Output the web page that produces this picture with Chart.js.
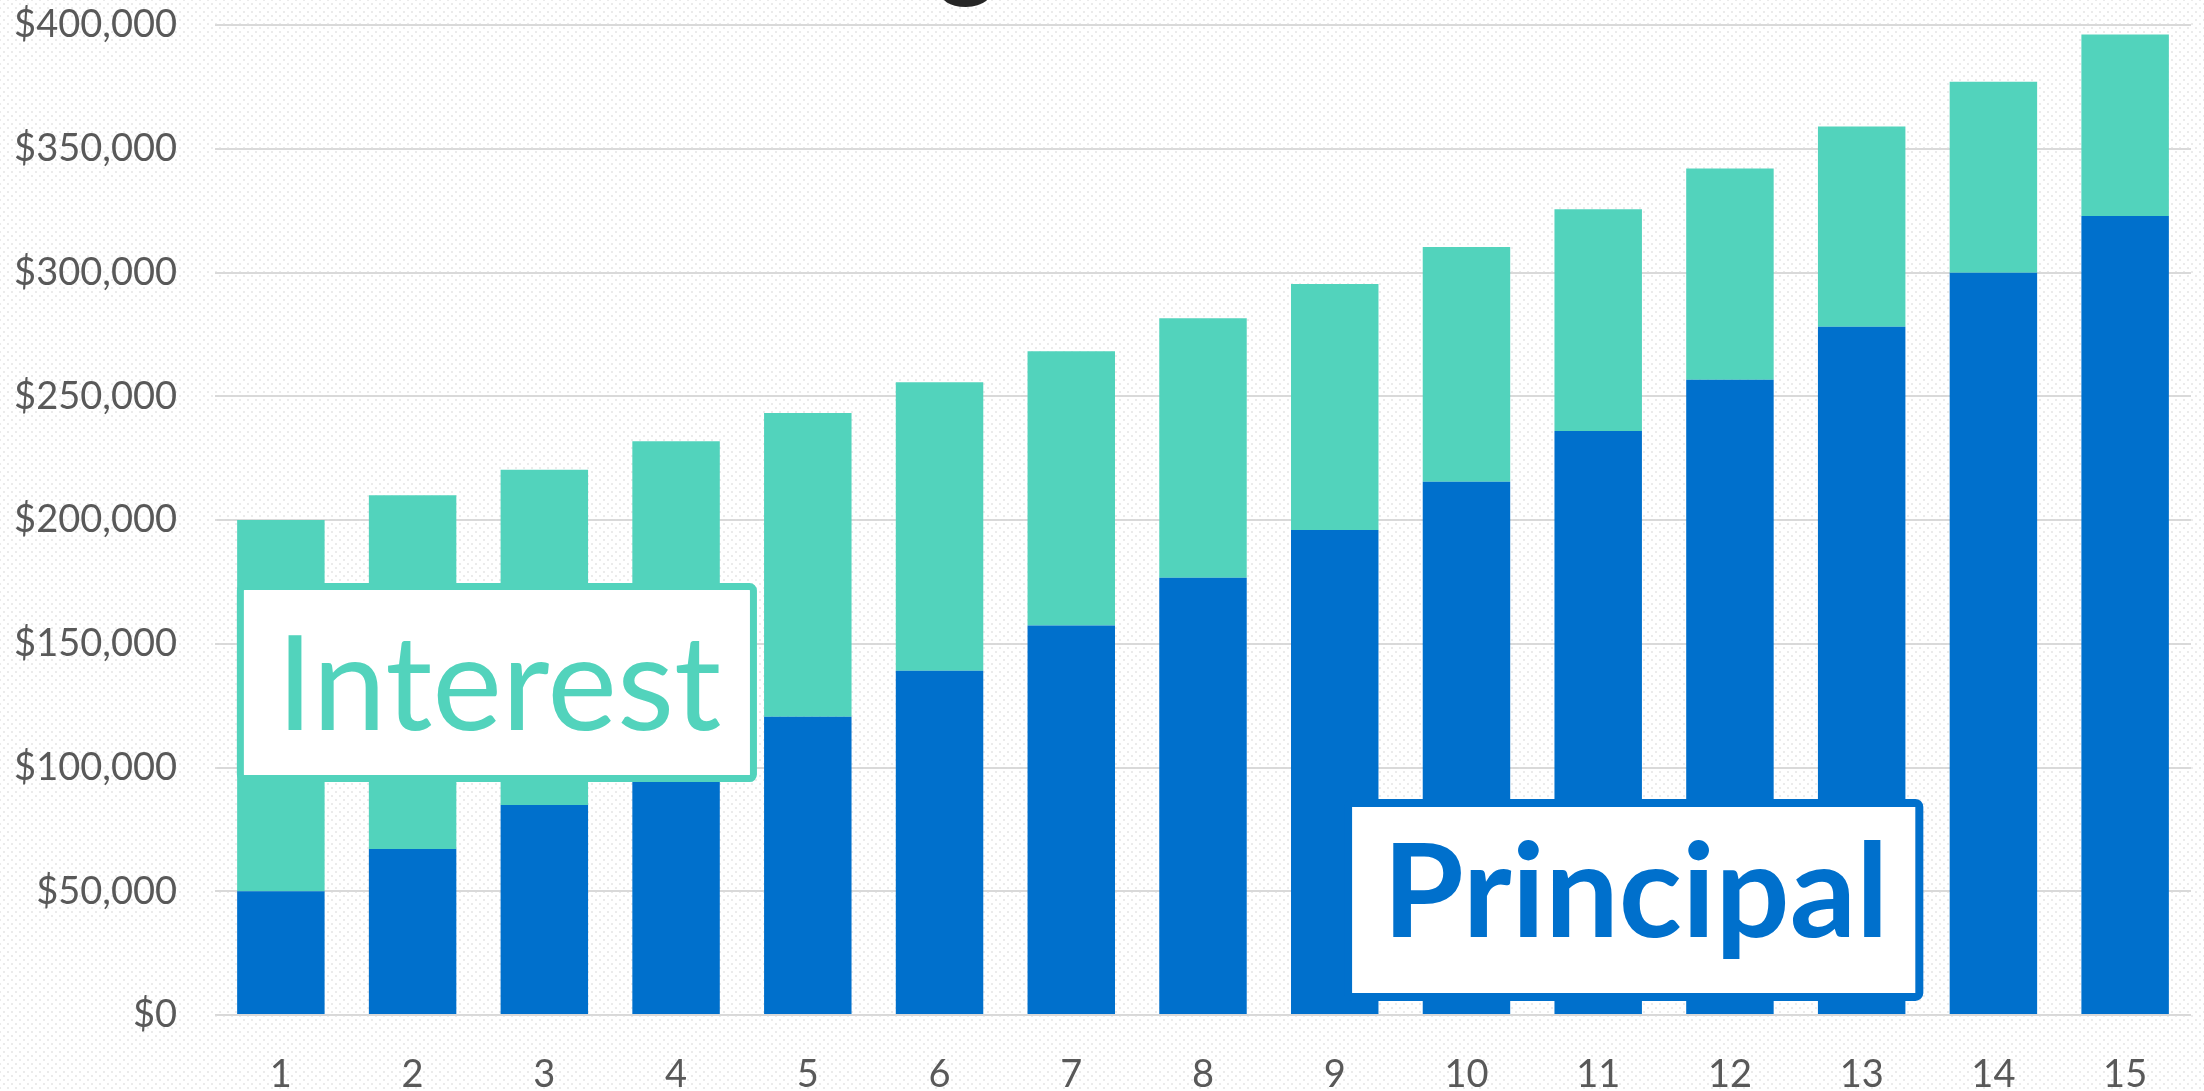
<!DOCTYPE html>
<html>
<head>
<meta charset="utf-8">
<script src="https://cdn.jsdelivr.net/npm/chart.js@4.4.1/dist/chart.umd.min.js"></script>
<style>
  html, body { margin: 0; padding: 0; }
  body {
    width: 2204px;
    height: 1091px;
    overflow: hidden;
    background-color: #ffffff;
    /* faint dotted paper behind the chart */
    background-image:
      radial-gradient(circle, #ebebeb 1px, transparent 1.4px),
      radial-gradient(circle, #ebebeb 1px, transparent 1.4px);
    background-size: 8px 8px;
    background-position: 0 0, 4px 4px;
  }
  #myChart { display: block; }
</style>
</head>
<body>
<canvas id="myChart" width="2204" height="1091"></canvas>
<script>
// years on the loan
var years = ['1', '2', '3', '4', '5', '6', '7', '8', '9', '10', '11', '12', '13', '14', '15'];

// principal paid down and interest, per year
var principal = [50000, 67100, 84800, 102500, 120500, 139100, 157400, 176700, 196000, 215500, 236000, 256700, 278100, 299900, 322800];
var interest  = [150000, 142900, 135500, 129300, 122700, 116600, 110800, 104800, 99400, 94800, 89600, 85300, 80900, 77200, 73400];

// value axis
var yTicks = [0, 50000, 100000, 150000, 200000, 250000, 300000, 350000, 400000];

var blue = '#0070CC';
var teal = '#52D3BC';

// labelled boxes, placed in axis units (category index / dollars)
var boxes = [
  { text: 'Interest',  color: teal, weight: 'normal', size: 132, from: -0.334, to: 3.614,  top: 174500, bottom: 94100, border: 7 },
  { text: 'Principal', color: blue, weight: 'bold',   size: 131, from: 8.071,  to: 12.468, top: 87300,  bottom: 5700,  border: 8 }
];

var boxLabels = {
  id: 'boxLabels',
  afterDatasetsDraw: function(chart) {
    var ctx = chart.ctx;
    var xs = chart.scales.x, ys = chart.scales.y;
    boxes.forEach(function(b) {
      var l = xs.getPixelForValue(b.from), r = xs.getPixelForValue(b.to);
      var t = ys.getPixelForValue(b.top), bt = ys.getPixelForValue(b.bottom);
      var h = b.border / 2;
      ctx.save();
      ctx.beginPath();
      ctx.roundRect(l + h, t + h, r - l - b.border, bt - t - b.border, 4);
      ctx.fillStyle = '#ffffff';
      ctx.fill();
      ctx.lineWidth = b.border;
      ctx.strokeStyle = b.color;
      ctx.stroke();
      ctx.fillStyle = b.color;
      ctx.font = b.weight + ' ' + b.size + 'px Lato';
      ctx.textAlign = 'center';
      ctx.textBaseline = 'alphabetic';
      var m = ctx.measureText(b.text);
      var cy = (t + bt) / 2 + (m.actualBoundingBoxAscent - m.actualBoundingBoxDescent) / 2;
      ctx.fillText(b.text, (l + r) / 2 + 2, cy);
      ctx.restore();
    });
  }
};

// heading sits mostly above the canvas edge
var heading = {
  id: 'heading',
  afterDraw: function(chart) {
    var ctx = chart.ctx;
    var text = 'Building Wealth';
    ctx.save();
    ctx.font = 'bold 110px Lato';
    ctx.fillStyle = '#262626';
    ctx.textAlign = 'left';
    ctx.textBaseline = 'alphabetic';
    var before = ctx.measureText('Buildin').width;
    ctx.fillText(text, 938 - before, -13);
    ctx.restore();
  }
};

var ctx = document.getElementById('myChart').getContext('2d');
var loanChart = new Chart(ctx, {
  type: 'bar',
  data: {
    labels: years,
    datasets: [{
      label: 'Principal',
      data: principal,
      backgroundColor: blue,
      barPercentage: 0.664,
      categoryPercentage: 1
    }, {
      label: 'Interest',
      data: interest,
      backgroundColor: teal,
      barPercentage: 0.664,
      categoryPercentage: 1
    }]
  },
  options: {
    responsive: false,
    animation: false,
    devicePixelRatio: 1,
    layout: { padding: { top: 0, right: 13, bottom: 0, left: 0 } },
    plugins: {
      legend: { display: false },
      tooltip: { enabled: false },
      title: { display: false }
    },
    scales: {
      x: {
        stacked: true,
        grid: { display: false },
        border: { display: false },
        ticks: {
          color: '#595959',
          font: { family: 'Lato', size: 38 },
          padding: 29,
          maxRotation: 0
        },
        afterFit: function(s) { s.height = 76; }
      },
      y: {
        stacked: true,
        min: 0,
        max: 400000,
        afterBuildTicks: function(s) {
          s.ticks = yTicks.map(function(v) { return { value: v }; });
        },
        grid: { color: '#d9d9d9', lineWidth: 2, drawTicks: false },
        border: { display: false },
        ticks: {
          color: '#595959',
          font: { family: 'Lato', size: 38, lineHeight: 1 },
          padding: 38,
          callback: function(v) { return '$' + v.toLocaleString('en-US'); }
        },
        afterFit: function(s) {
          s.width = 215;
          s.paddingTop = 25;
        }
      }
    }
  },
  plugins: [boxLabels, heading]
});
</script>
</body>
</html>
